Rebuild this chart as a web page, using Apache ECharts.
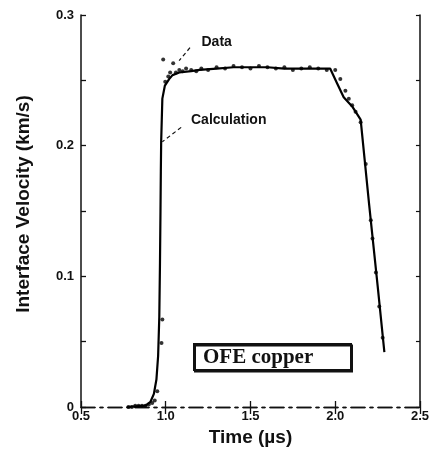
<!DOCTYPE html>
<html>
<head>
<meta charset="utf-8">
<script src="https://cdn.jsdelivr.net/npm/echarts@6/dist/echarts.min.js"></script>
<style>
html,body{margin:0;padding:0;background:#fff;}
#c{width:432px;height:452px;}
</style>
</head>
<body>
<div id="c"></div>
<script>
// ---- data ----
const calcTime = [0.77, 0.88, 0.91, 0.93, 0.945, 0.955, 0.962, 0.966, 0.969, 0.971, 0.973, 0.98, 0.995, 1.02, 1.04, 1.08, 1.15, 1.2, 1.3, 1.4, 1.5, 1.6, 1.7, 1.8, 1.9, 1.97, 2.01, 2.05, 2.1, 2.15, 2.2, 2.25, 2.29];
const calcVel  = [0.000, 0.001, 0.004, 0.010, 0.021, 0.039, 0.069, 0.110, 0.150, 0.180, 0.203, 0.236, 0.246, 0.251, 0.254, 0.256, 0.257, 0.258, 0.259, 0.260, 0.260, 0.260, 0.259, 0.259, 0.259, 0.259, 0.248, 0.237, 0.230, 0.220, 0.155, 0.093, 0.042];

const dataTime = [0.78, 0.80, 0.82, 0.84, 0.86, 0.88, 0.90, 0.92, 0.935, 0.95, 0.975, 0.98, 0.985, 0.997, 1.015, 1.026, 1.044, 1.06, 1.08, 1.10, 1.12, 1.15, 1.18, 1.21, 1.25, 1.30, 1.35, 1.40, 1.45, 1.50, 1.55, 1.60, 1.65, 1.70, 1.75, 1.80, 1.85, 1.90, 1.95, 2.00, 2.03, 2.06, 2.08, 2.10, 2.12, 2.15, 2.18, 2.21, 2.22, 2.24, 2.26, 2.28];
const dataVel  = [0.000, 0.000, 0.001, 0.001, 0.001, 0.001, 0.002, 0.003, 0.005, 0.012, 0.049, 0.067, 0.266, 0.249, 0.253, 0.256, 0.263, 0.256, 0.258, 0.257, 0.259, 0.258, 0.257, 0.259, 0.258, 0.260, 0.259, 0.261, 0.260, 0.259, 0.261, 0.260, 0.259, 0.260, 0.258, 0.259, 0.260, 0.259, 0.258, 0.258, 0.251, 0.242, 0.236, 0.231, 0.226, 0.218, 0.186, 0.143, 0.129, 0.103, 0.077, 0.053];

const xTickLabels = ['0.5', '1.0', '1.5', '2.0', '2.5'];
const yTickLabels = ['0', '0.1', '0.2', '0.3'];

const xName = 'Time (\u00b5s)';
const yName = 'Interface Velocity (km/s)';
const dataLabel = 'Data';
const calcLabel = 'Calculation';
const boxLabel = 'OFE copper';

// annotation anchors in data coordinates
const dataLabelAt = [1.211, 0.2795];
const calcLabelAt = [1.149, 0.2197];
const dataLeader = [[1.143, 0.275], [1.079, 0.265]];
const calcLeader = [[1.091, 0.214], [0.98, 0.203]];

const calcPairs = calcTime.map((t, i) => [t, calcVel[i]]);
const dataPairs = dataTime.map((t, i) => [t, dataVel[i]]);

const chart = echarts.init(document.getElementById('c'), null, {renderer: 'canvas'});
const FONT = '"Liberation Sans", Arial, sans-serif';
const dashed = [14, 5, 3, 5];

function xLab(v) {
  const i = Math.round((v - 0.5) / 0.5);
  return (Math.abs(v - (0.5 + 0.5 * i)) < 1e-6 && xTickLabels[i]) || '';
}
function yLab(v) {
  const k = Math.round(v * 100);
  if (k % 10 !== 0) return '';
  return yTickLabels[k / 10] || '';
}

chart.setOption({
  animation: false,
  backgroundColor: '#fff',
  grid: {left: 81, right: 9, top: 15, bottom: 41, containLabel: false},
  xAxis: [{
    type: 'value', min: 0.5, max: 2.5, interval: 0.5, position: 'bottom',
    name: xName, nameLocation: 'middle', nameGap: 21,
    nameTextStyle: {fontFamily: FONT, fontSize: 19, fontWeight: 'bold', color: '#111'},
    axisLine: {show: true, lineStyle: {color: '#111', width: 1.3, type: dashed}},
    axisTick: {show: true, inside: true, length: 6, lineStyle: {color: '#111', width: 1.3}},
    axisLabel: {formatter: xLab, fontFamily: FONT, fontWeight: 'bold', fontSize: 13, color: '#111', margin: 3},
    splitLine: {show: false}
  }, {
    type: 'value', min: 0.5, max: 2.5, interval: 0.5, position: 'top',
    axisLine: {show: true, lineStyle: {color: '#111', width: 1.3, type: dashed}},
    axisTick: {show: true, inside: true, length: 7, lineStyle: {color: '#111', width: 1.3}},
    axisLabel: {show: false}, splitLine: {show: false}
  }],
  yAxis: [{
    type: 'value', min: 0, max: 0.3, interval: 0.05, position: 'left',
    name: yName, nameLocation: 'middle', nameGap: 48,
    nameTextStyle: {fontFamily: FONT, fontSize: 19, fontWeight: 'bold', color: '#111', padding: [0, 0, 0, 14]},
    axisLine: {show: true, lineStyle: {color: '#111', width: 1.5}},
    axisTick: {show: true, inside: true, length: 5, lineStyle: {color: '#111', width: 1.3}},
    axisLabel: {formatter: yLab, fontFamily: FONT, fontWeight: 'bold', fontSize: 13, color: '#111', margin: 7},
    splitLine: {show: false}
  }, {
    type: 'value', min: 0, max: 0.3, interval: 0.05, position: 'right',
    axisLine: {show: true, lineStyle: {color: '#111', width: 1.5}},
    axisTick: {show: true, inside: true, length: 4, lineStyle: {color: '#111', width: 1.2}},
    axisLabel: {show: false}, splitLine: {show: false}
  }],
  series: [{
    name: calcLabel, type: 'line', data: calcPairs, showSymbol: false, symbol: 'none',
    lineStyle: {color: '#000', width: 2.2}, z: 3,
    markLine: {
      silent: true, symbol: ['none', 'none'], animation: false,
      label: {show: false},
      lineStyle: {color: '#111', width: 1.2, type: [4, 3]},
      data: [
        [{coord: dataLeader[0]}, {coord: dataLeader[1]}],
        [{coord: calcLeader[0]}, {coord: calcLeader[1]}]
      ]
    },
    markPoint: {
      silent: true, symbol: 'circle', symbolSize: 0, animation: false,
      label: {show: true, position: 'right', distance: 0, formatter: '{b}',
        fontFamily: FONT, fontSize: 14, fontWeight: 'bold', color: '#111'},
      data: [
        {name: dataLabel, coord: dataLabelAt},
        {name: calcLabel, coord: calcLabelAt}
      ]
    }
  }, {
    name: dataLabel, type: 'scatter', data: dataPairs, symbol: 'circle', symbolSize: 4,
    itemStyle: {color: '#000'}, z: 4
  }],
  graphic: [{
    type: 'group', left: 193, top: 343,
    children: [{
      type: 'rect', shape: {x: 0, y: 0, width: 157, height: 26},
      style: {fill: '#fff', stroke: '#111', lineWidth: 2, shadowColor: '#111', shadowOffsetX: 1, shadowOffsetY: 1.5, shadowBlur: 0}
    }, {
      type: 'text', x: 9, y: 14,
      style: {text: boxLabel, font: 'bold 21px "Liberation Serif", "Times New Roman", serif', fill: '#111', verticalAlign: 'middle'}
    }]
  }]
});
</script>
</body>
</html>
